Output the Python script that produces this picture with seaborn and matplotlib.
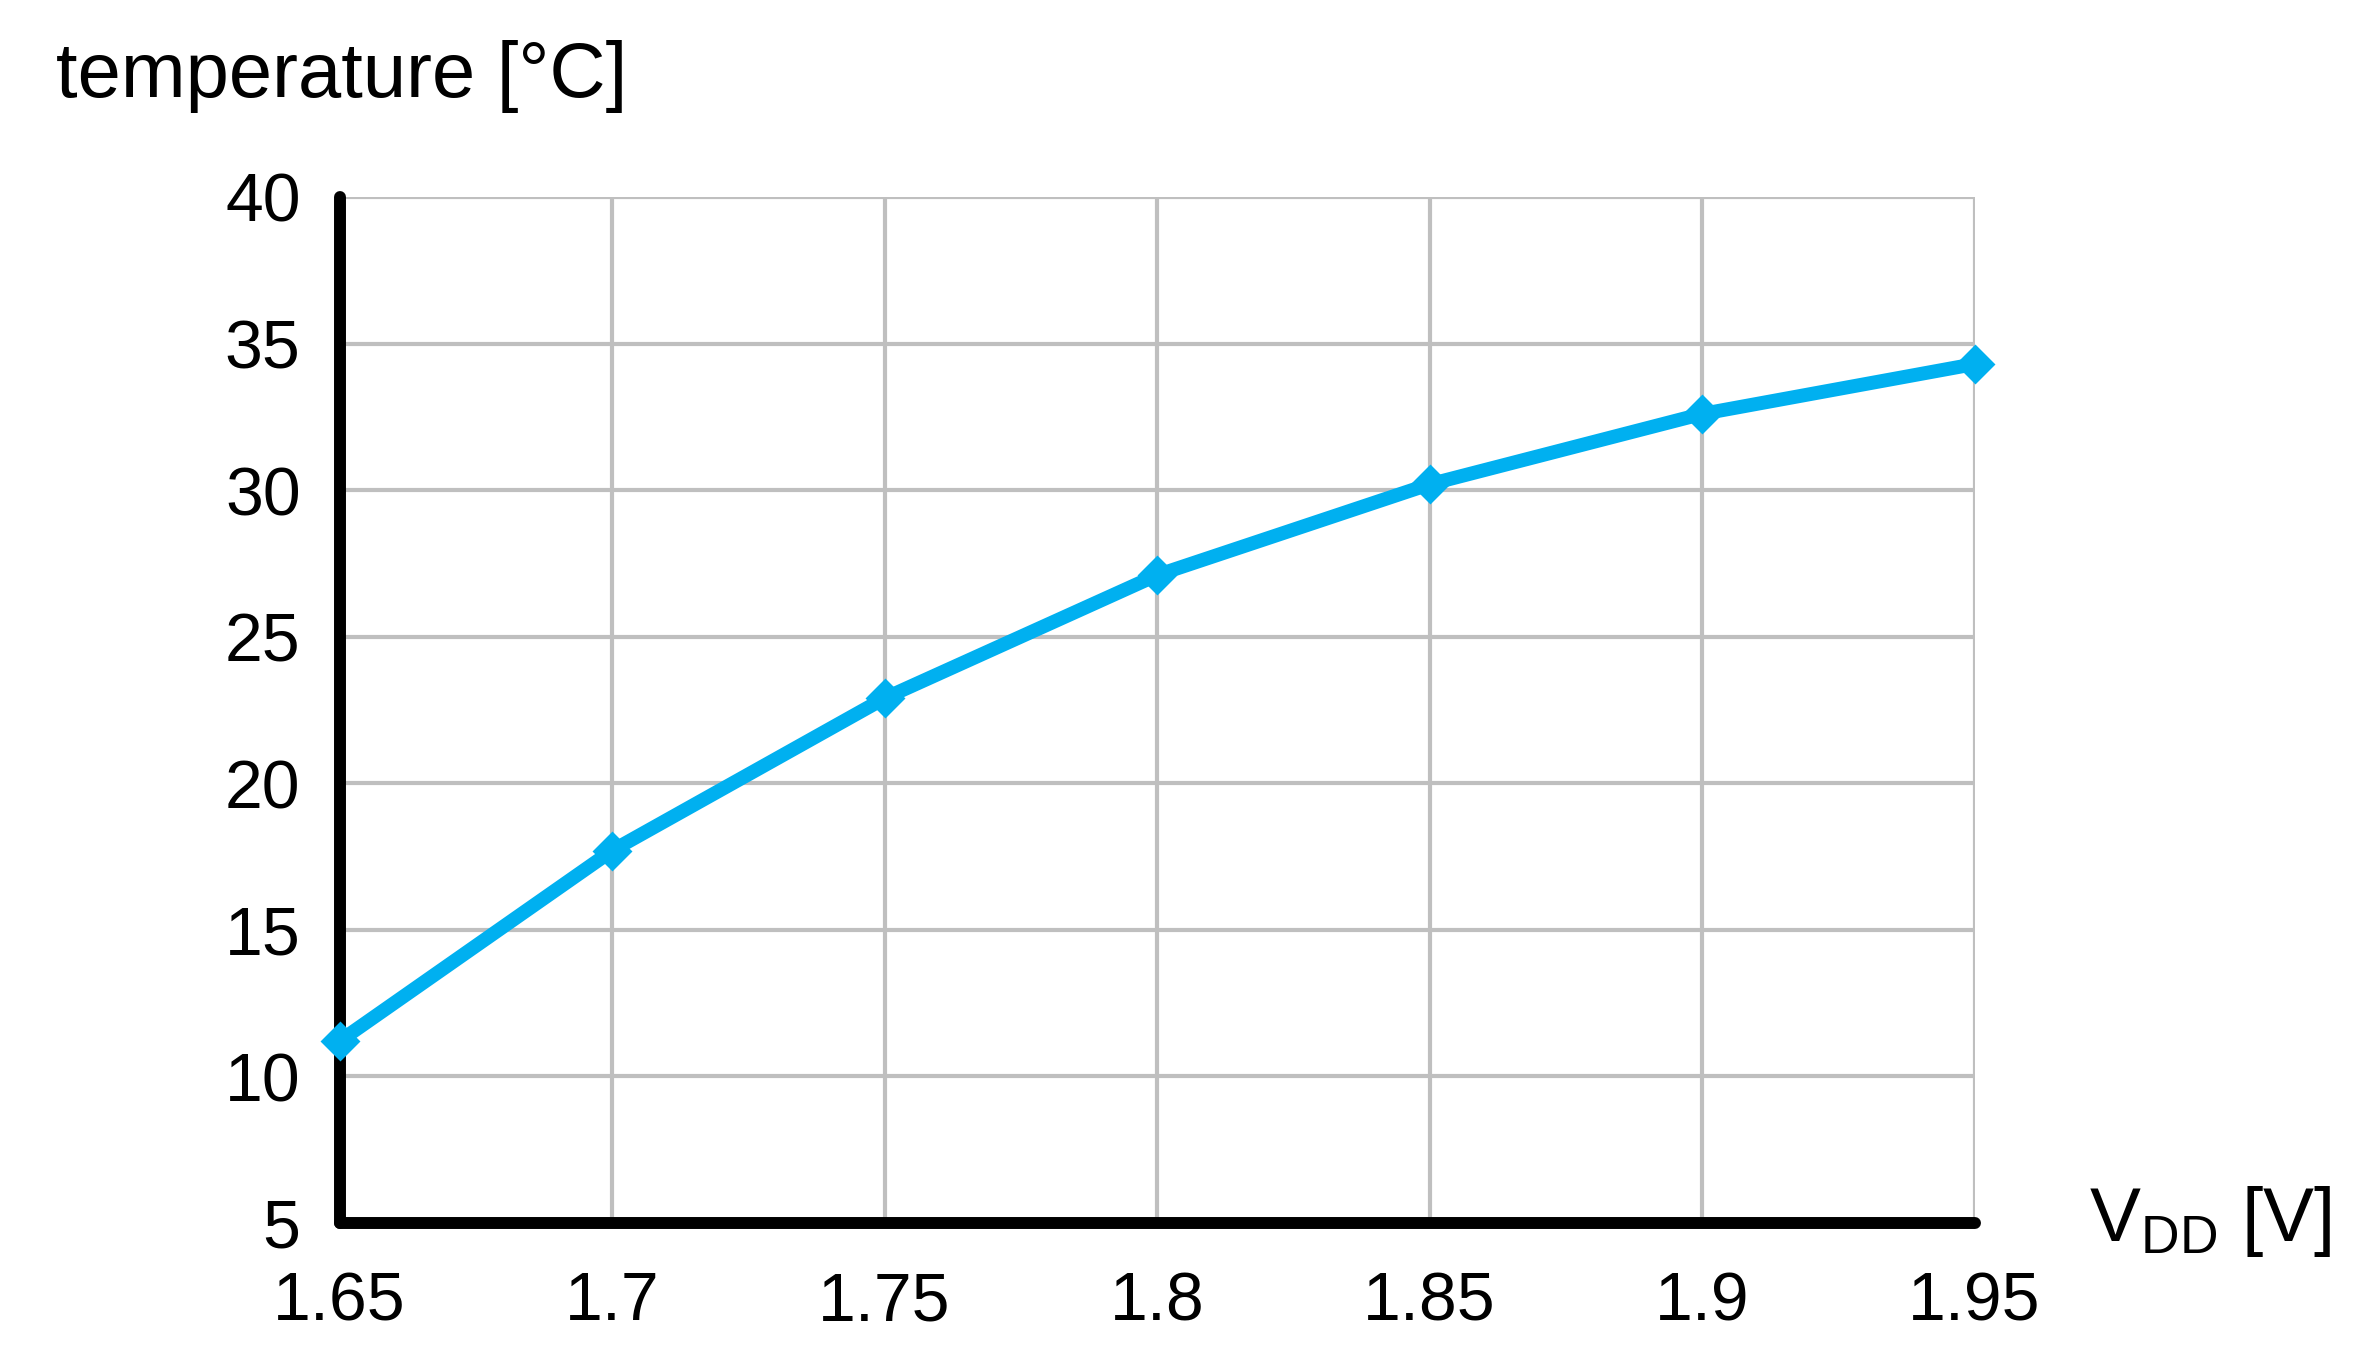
import matplotlib
matplotlib.use('Agg')
import matplotlib.pyplot as plt
import seaborn as sns
import pandas as pd

# values
vdd = [1.65, 1.70, 1.75, 1.80, 1.85, 1.90, 1.95]
temperature = [11.2, 17.7, 22.9, 27.1, 30.2, 32.6, 34.3]
x_ticks = [1.65, 1.70, 1.75, 1.80, 1.85, 1.90, 1.95]
x_labels = ['1.65', '1.7', '1.75', '1.8', '1.85', '1.9', '1.95']
y_ticks = [5, 10, 15, 20, 25, 30, 35, 40]

df = pd.DataFrame({'vdd': vdd, 'temperature': temperature})

sns.set_style('white')
plt.rcParams['font.family'] = ['Liberation Sans', 'DejaVu Sans']
plt.rcParams['text.color'] = 'black'
plt.rcParams['mathtext.fontset'] = 'custom'
plt.rcParams['mathtext.rm'] = 'Liberation Sans'
plt.rcParams['mathtext.it'] = 'Liberation Sans'

fig = plt.figure(figsize=(23.61, 13.53), dpi=100)
ax = fig.add_axes([0.1438, 0.0961, 0.6925, 0.7583])

sns.lineplot(data=df, x='vdd', y='temperature', ax=ax, color='#00B0F0',
             linewidth=10, marker='D', markersize=18, markeredgewidth=2,
             markeredgecolor='#00B0F0', clip_on=False, zorder=5)

ax.set_xlim(1.65, 1.95)
ax.set_ylim(5, 40)
ax.set_xticks(x_ticks)
ax.set_xticklabels(x_labels)
ax.set_yticks(y_ticks)
ax.tick_params(axis='both', length=0, labelsize=49, colors='black')
ax.tick_params(axis='x', pad=34)
ax.tick_params(axis='y', pad=28)

ax.grid(True, color='#BFBFBF', linewidth=3)
ax.set_axisbelow(True)
for s in ['top', 'right']:
    ax.spines[s].set_visible(False)
for s in ['left', 'bottom']:
    ax.spines[s].set_color('black')
    ax.spines[s].set_linewidth(8.6)
    ax.spines[s].set_capstyle('round')
    ax.spines[s].set_zorder(3)

ax.set_xlabel('')
ax.set_ylabel('')

fig.text(0.0237, 0.928, 'temperature [°C]', fontsize=56, ha='left', va='baseline',
         color='black')
fig.text(0.885, 0.083, r'$\mathregular{V_{DD}}$ [V]', fontsize=55, ha='left',
         va='baseline', color='black')

plt.savefig('out.png', dpi=100)
